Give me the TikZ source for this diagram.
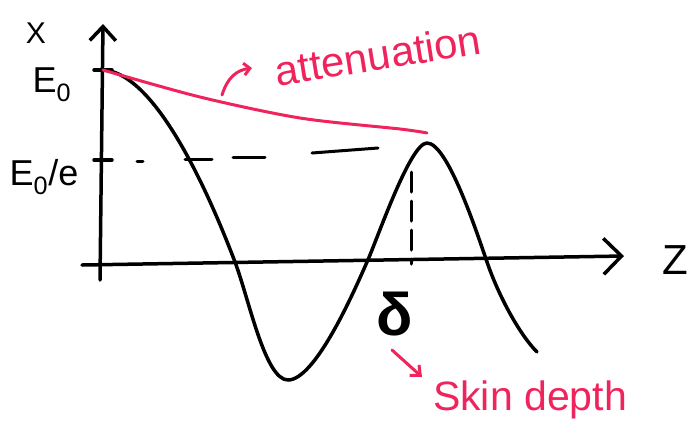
\documentclass[tikz,border=0pt]{standalone}
\usepackage{fontspec}
\setmainfont{Liberation Sans}
\usepackage{xcolor}
\definecolor{penred}{RGB}{240,36,92}
\usetikzlibrary{arrows.meta,positioning}

\begin{document}
\begin{tikzpicture}[x=1pt,y=-1pt,line cap=round,line join=round]
  \useasboundingbox (0,0) rectangle (696,432);
  % axes
  \draw[line width=3.5pt,-{Straight Barb[length=14pt,width=26pt,line width=3.5pt]}] (100,280) -- (103,24);
  \draw[line width=3.5pt,-{Straight Barb[length=18pt,width=36pt,line width=3.5pt]}] (82,265) -- (624,256);
  \foreach \y in {70,160} {\draw[line width=3.5pt] (94,\y) -- (112,\y);}
  % labels on the axes
  \node[font=\fontsize{30}{30}\selectfont] (xlab) at (36,33) {X};
  \node[font=\fontsize{36}{36}\selectfont] (ezero) at (52,85) {E\textsubscript{0}};
  \node[font=\fontsize{36}{36}\selectfont] (ezeroe) at (44,177) {E\textsubscript{0}/e};
  \node[font=\fontsize{42}{42}\selectfont] (zlab) at (675,260) {Z};
  % dashes at E0/e and at the peak
  \foreach \xa/\ya/\xb/\yb in {137/161/143/161,185/159/212/159,233/157/265/157,312/153/378/148}
    {\draw[line width=3pt] (\xa,\ya) -- (\xb,\yb);}
  \draw[line width=3pt,dash pattern=on 20pt off 9pt] (411,172) -- (411,264);
  % damped wave
  \draw[line width=3.5pt] (103,70) .. controls (150,72) and (200,170) .. (235,262)
    .. controls (249,299) and (265,380) .. (288,380)
    .. controls (315,380) and (353,294) .. (367,262)
    .. controls (377,240) and (410,143) .. (427,143)
    .. controls (447,143) and (475,227) .. (487,262)
    .. controls (499,297) and (520,335) .. (537,352);
  % envelope
  \draw[penred,line width=3pt] plot[smooth] coordinates {(103,70) (200,97) (300,118) (400,129) (427,133)};
  \node[penred,rotate=9,font=\fontsize{42}{42}\selectfont] (atten) at (378,55) {attenuation};
  \coordinate (attfoot) at (222,95);
  \draw[penred,line width=3pt,-{Straight Barb[length=6pt,width=12pt,line width=3pt]}] (attfoot) .. controls (228,76) and (238,70) .. (252,68);
  % skin depth
  \node[font=\bfseries\fontsize{60}{60}\selectfont] (delta) at (395,314) {δ};
  \node[penred,font=\fontsize{41}{41}\selectfont] (skin) at (530,400) {Skin depth};
  \coordinate (skintip) at (422,377);
  \draw[penred,line width=3pt,-{Straight Barb[length=8pt,width=14pt,line width=3pt]}] (392,350) -- (skintip);
\end{tikzpicture}
\end{document}
